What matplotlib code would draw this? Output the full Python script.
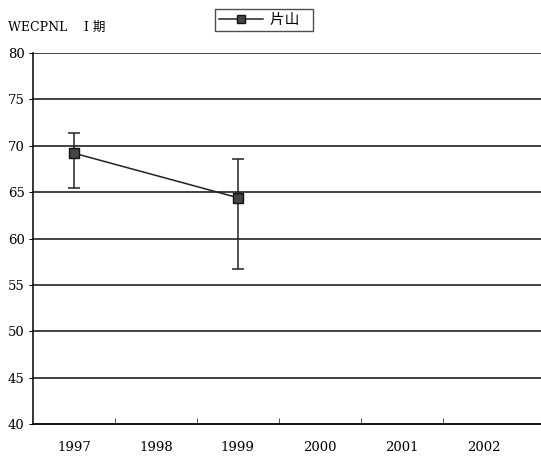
import numpy as np
import matplotlib.pyplot as plt
from matplotlib.lines import Line2D

plt.rcParams['font.family'] = ['DejaVu Serif', 'Noto Sans CJK SC', 'DejaVu Sans']

years = ['1997', '1998', '1999', '2000', '2001', '2002']
x_pts = [0, 2]               # 1997, 1999
values = [69.2, 64.4]
err_top = [71.4, 68.6]
err_bot = [65.4, 56.7]
yticks = [40, 45, 50, 55, 60, 65, 70, 75, 80]

fig = plt.figure(figsize=(5.41, 4.62), dpi=100)
ax = fig.add_axes([33 / 541, 1 - 424 / 462, 1 - 33 / 541, (424 - 53) / 462])

ax.set_ylim(40, 80)
ax.set_xlim(-0.5, 5.7)
for y in yticks[1:]:
    ax.axhline(y, color='#333333', lw=1.3, zorder=1)

lo = np.array(values) - np.array(err_bot)
hi = np.array(err_top) - np.array(values)
ax.errorbar(x_pts, values, yerr=[lo, hi], color='#222222', lw=1.1,
            ecolor='#222222', elinewidth=1.1, capsize=4, capthick=1.1,
            marker='s', markersize=7, markerfacecolor='#444444',
            markeredgecolor='#111111', zorder=3)

ax.set_yticks(yticks)
ax.set_xticks(range(len(years)))
ax.set_xticklabels(years)
ax.set_xticks(np.arange(0.5, 5.0, 1.0), minor=True)
ax.tick_params(axis='x', which='major', length=0, pad=12, labelsize=9.5)
ax.tick_params(axis='x', which='minor', direction='in', length=4, color='#333333')
ax.tick_params(axis='y', length=3, direction='out', labelsize=9.5, pad=3)

for s in ['top', 'right']:
    ax.spines[s].set_visible(False)
ax.spines['left'].set_linewidth(1.1)
ax.spines['bottom'].set_linewidth(1.3)

fig.text(8 / 541, 1 - 27 / 462, 'WECPNL　 I 期', fontsize=9, va='center', ha='left')

handle = Line2D([], [], color='#222222', lw=1.1, marker='s', markersize=6,
                markerfacecolor='#444444', markeredgecolor='#111111')
leg = fig.legend([handle], ['片山  '], loc='center',
                 bbox_to_anchor=(264 / 541, 1 - 20 / 462),
                 frameon=True, fancybox=False, edgecolor='#222222',
                 fontsize=10.5, handlelength=3.0, borderpad=0.3,
                 borderaxespad=0, handletextpad=0.5)
leg.get_frame().set_linewidth(1.0)

fig.savefig('out.png', dpi=100)
